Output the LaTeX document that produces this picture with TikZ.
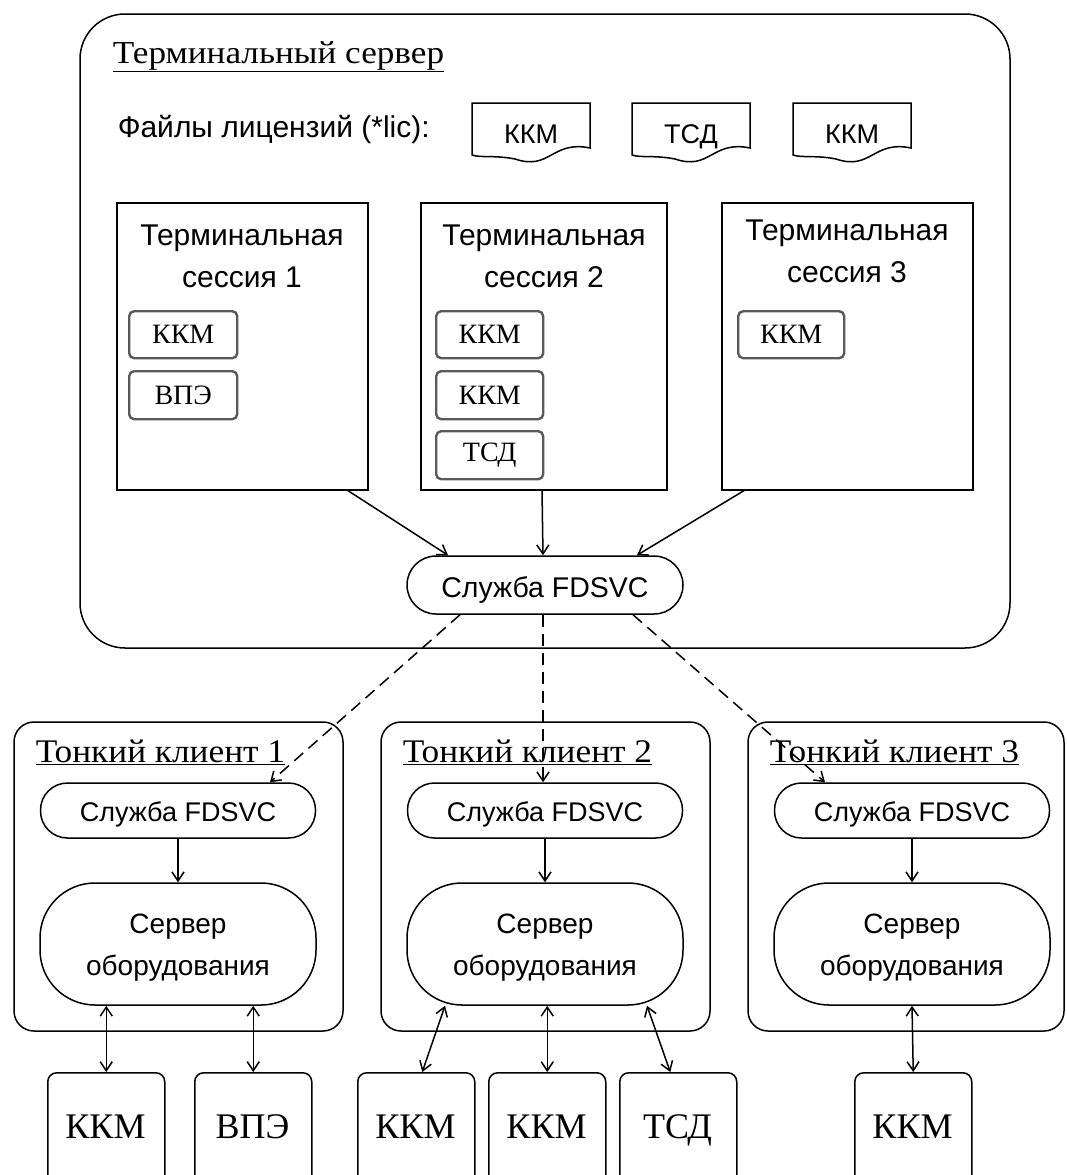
\documentclass[tikz,border=0pt]{standalone}
\usepackage{fontspec}
\usepackage{graphicx}
\setmainfont{Liberation Serif}
\newfontfamily\sansf{Liberation Sans}
\usetikzlibrary{arrows.meta,calc}
\begin{document}
\begin{tikzpicture}[x=1pt,y=-1pt,line width=1.5pt,
  >={Straight Barb[length=9pt,width=12pt]},
  frame/.style={draw, rectangle, inner sep=0pt, outer sep=0pt, anchor=north west},
  ibox/.style={draw=black!65, line width=2.4pt, rectangle, rounded corners=5pt, inner sep=0pt, anchor=north west,
     font=\fontsize{28}{28}\selectfont},
  dev/.style={draw, rectangle, rounded corners=9pt, inner sep=0pt, anchor=north west, minimum width=117pt, minimum height=140pt},
  stad/.style={draw, rectangle, inner sep=0pt},
  sanslbl/.style={anchor=base, inner sep=0pt, font=\sansf\fontsize{30}{30}\selectfont},
  sertitle/.style={anchor=base west, inner sep=0pt, font=\fontsize{33}{33}\selectfont},
  devlbl/.style={anchor=base, inner sep=0pt, font=\fontsize{36}{36}\selectfont},
  doclbl/.style={anchor=base, inner sep=0pt, font=\sansf\fontsize{27}{27}\selectfont},
  dashedlink/.style={->, dash pattern=on 12pt off 7pt},
  dbl/.style={<->}
]
\clip (0,0) rectangle (1067,1175);
\fill[white] (0,0) rectangle (1067,1175);

% Terminal server
\node[frame, rounded corners=45pt, minimum width=930pt, minimum height=634pt] (srv) at (80,14) {};
\node[sertitle, font=\fontsize{32}{32}\selectfont] (srvt) at (112,63) {\underline{\scalebox{1.1}[1]{Терминальный сервер}}};
\node[anchor=base west, inner sep=0pt, font=\sansf\fontsize{30}{30}\selectfont] (lic) at (117,137) {Файлы лицензий (*lic):};

% license documents
\foreach \n/\xa/\t in {doca/472/ККМ, docb/632/ТСД, docc/793/ККМ}{
  \draw (\xa,103) -- ++(118,0) -- ++(0,45) .. controls ++(-38,-8) and ++(35,12) .. ++(-75,11)
     .. controls ++(-20,-4) and ++(8,3) .. (\xa,155) -- cycle;
  \node[doclbl] (\n) at (\xa+59,143) {\t};
}

% sessions
\node[frame, minimum width=251pt, minimum height=287pt] (s1) at (117,203) {};
\node[frame, minimum width=246pt, minimum height=287pt] (s2) at (421,203) {};
\node[frame, minimum width=251pt, minimum height=287pt] (s3) at (722,203) {};
\node[sanslbl] (s1a) at (242,245) {Терминальная};
\node[sanslbl] (s1b) at (242,287) {сессия 1};
\node[sanslbl] (s2a) at (544,245) {Терминальная};
\node[sanslbl] (s2b) at (544,287) {сессия 2};
\node[sanslbl] (s3a) at (847,240) {Терминальная};
\node[sanslbl] (s3b) at (847,282) {сессия 3};

\node[ibox, minimum width=108pt, minimum height=47pt] (i11) at (128,310) {ККМ};
\node[ibox, minimum width=108pt, minimum height=48pt] (i12) at (128,370) {ВПЭ};
\node[ibox, minimum width=107pt, minimum height=47pt] (i21) at (435,310) {ККМ};
\node[ibox, minimum width=107pt, minimum height=48pt] (i22) at (435,370) {ККМ};
\node[ibox, minimum width=107pt, minimum height=48pt] (i23) at (435,430) {ТСД};
\node[ibox, minimum width=106pt, minimum height=47pt] (i31) at (737,310) {ККМ};

% main FDSVC
\node[stad, rounded corners=29pt, minimum width=276pt, minimum height=58pt] (fd) at (545,585) {};
\node[sanslbl, font=\sansf\fontsize{28.5}{28.5}\selectfont] (fdt) at (545,597) {Служба FDSVC};

\draw[->] ([xshift=-21pt]s1.south east) -- ([xshift=-97pt]fd.north);
\draw[->] ([xshift=-2pt]s2.south) -- ([xshift=-2pt]fd.north);
\draw[->] ([xshift=23pt]s3.south west) -- ([xshift=92pt]fd.north);

% clients
\node[frame, rounded corners=20pt, minimum width=329pt, minimum height=309pt] (c1) at (14,722) {};
\node[frame, rounded corners=20pt, minimum width=329pt, minimum height=309pt] (c2) at (381,722) {};
\node[frame, rounded corners=20pt, minimum width=316pt, minimum height=309pt] (c3) at (748,722) {};
\node[sertitle] (c1t) at (35,762) {\underline{\scalebox{1.07}[1]{Тонкий клиент 1}}};
\node[sertitle] (c2t) at (402,762) {\underline{\scalebox{1.07}[1]{Тонкий клиент 2}}};
\node[sertitle] (c3t) at (769,762) {\underline{\scalebox{1.07}[1]{Тонкий клиент 3}}};

\foreach \i/\cx in {1/178,2/545,3/912}{
  \node[stad, rounded corners=27pt, minimum width=275pt, minimum height=55pt] (c\i fd) at (\cx,810.5) {};
  \node[sanslbl, font=\sansf\fontsize{27}{27}\selectfont] (c\i fdt) at (\cx,821) {Служба FDSVC};
  \node[stad, rounded corners=55pt, minimum width=276pt, minimum height=122pt] (c\i sv) at (\cx,944) {};
  \node[sanslbl, font=\sansf\fontsize{28}{28}\selectfont] (c\i sva) at (\cx,933) {Сервер};
  \node[sanslbl, font=\sansf\fontsize{28}{28}\selectfont] (c\i svb) at (\cx,975) {оборудования};
  \draw[->] (c\i fd.south) -- (c\i sv.north);
}

\draw[dashedlink] ([xshift=-85pt]fd.south) -- ([xshift=92pt]c1fd.north);
\draw[dashedlink] ([xshift=-2pt]fd.south) -- ([xshift=-2pt]c2fd.north);
\draw[dashedlink] ([xshift=88pt]fd.south) -- ([xshift=-87pt]c3fd.north);

% devices
\node[dev] (d11) at (47,1072) {};
\node[dev] (d12) at (194,1072) {};
\node[dev] (d21) at (357,1072) {};
\node[dev] (d22) at (488,1072) {};
\node[dev] (d23) at (619,1072) {};
\node[dev] (d31) at (854,1072) {};
\node[devlbl] (d11t) at (105.5,1138) {ККМ};
\node[devlbl] (d12t) at (252.5,1138) {ВПЭ};
\node[devlbl] (d21t) at (415.5,1138) {ККМ};
\node[devlbl] (d22t) at (546.5,1138) {ККМ};
\node[devlbl] (d23t) at (677.5,1138) {ТСД};
\node[devlbl] (d31t) at (912.5,1138) {ККМ};

\draw[dbl] (d11.north |- c1sv.south) -- (d11.north);
\draw[dbl] (d12.north |- c1sv.south) -- (d12.north);
\draw[dbl] ([xshift=-100pt]c2sv.south) -- ([xshift=6pt]d21.north);
\draw[dbl] (d22.north |- c2sv.south) -- (d22.north);
\draw[dbl] ([xshift=102pt]c2sv.south) -- ([xshift=-8pt]d23.north);
\draw[dbl] (c3sv.south) -- (d31.north);
\end{tikzpicture}
\end{document}
